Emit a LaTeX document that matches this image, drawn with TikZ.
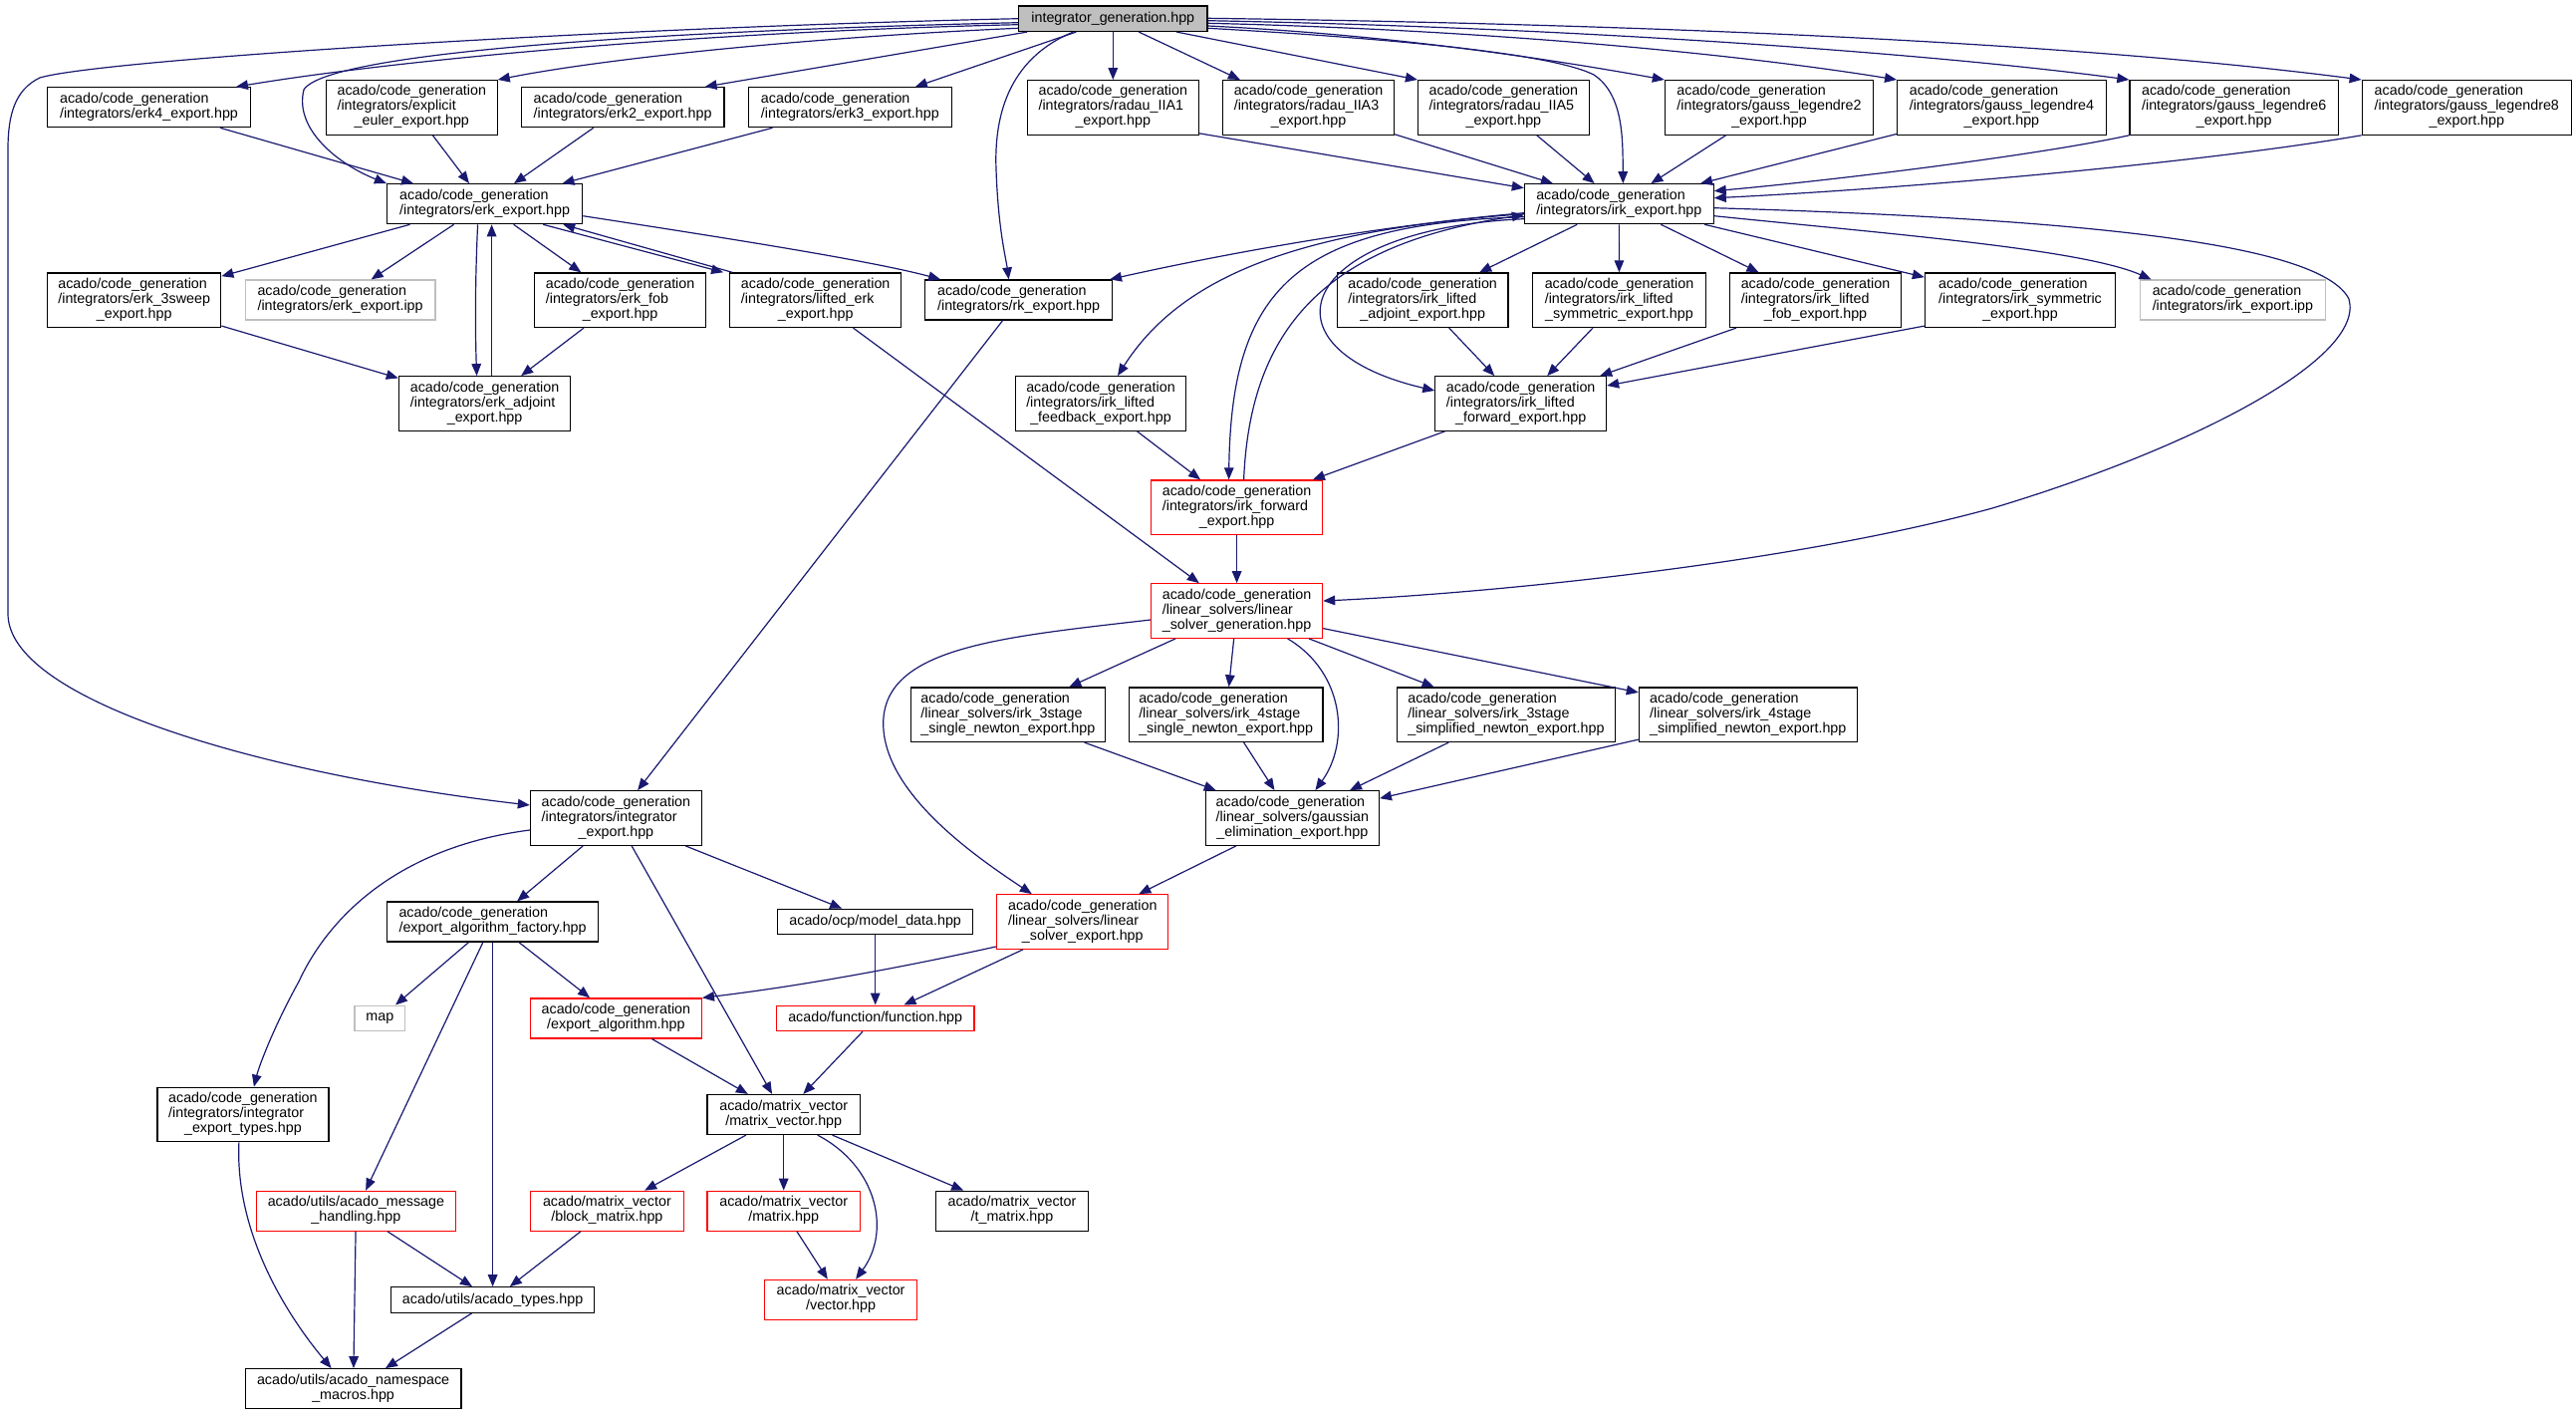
\documentclass[tikz,border=0pt]{standalone}
\usepackage{fontspec}
\setmainfont{Liberation Sans}
\usetikzlibrary{arrows.meta,calc}
\definecolor{edgec}{HTML}{191970}
\definecolor{redc}{HTML}{FF0000}
\definecolor{grayb}{HTML}{BFBFBF}
\newcommand\tb[1]{\begin{tabular}{@{}l@{}}#1\end{tabular}}
\newcommand\lc[1]{\multicolumn{1}{@{}c@{}}{#1}}
\begin{document}
\begin{tikzpicture}[x=0.5pt,y=-0.5pt,
 bx/.style={draw=black,line width=0.6pt,fill=white,inner sep=0pt,font=\fontsize{7.15pt}{7.5pt}\selectfont},
 rb/.style={bx,draw=redc},
 gb/.style={bx,draw=grayb},
 wd/.style={minimum width=#1*0.5pt},
 h1/.style={minimum height=12.8pt},
 h2/.style={minimum height=20pt},
 h3/.style={minimum height=27.3pt},
 edg/.style={draw=edgec,line width=0.6pt,-{Triangle[length=6pt,width=4.8pt]}}]
\useasboundingbox (0,0) rectangle (2586,1420);
% ---------- nodes ----------
\node[bx,fill=grayb,wd=189.4,h1] (top) at (1117.3,18.7) {integrator\_generation.hpp};
\node[bx,wd=203.7,h2] (erk4) at (149.5,107.7) {\tb{acado/code\_generation\\\lc{/integrators/erk4\_export.hpp}}};
\node[bx,wd=171.8,h3] (ee) at (413.3,107.9) {\tb{acado/code\_generation\\/integrators/explicit\\\lc{\_euler\_export.hpp}}};
\node[bx,wd=203.8,h2] (erk2) at (625.1,107.7) {\tb{acado/code\_generation\\\lc{/integrators/erk2\_export.hpp}}};
\node[bx,wd=203.7,h2] (erk3) at (853.4,107.7) {\tb{acado/code\_generation\\\lc{/integrators/erk3\_export.hpp}}};
\node[bx,wd=171.7,h3] (r1) at (1117.3,107.9) {\tb{acado/code\_generation\\/integrators/radau\_IIA1\\\lc{\_export.hpp}}};
\node[bx,wd=172,h3] (r3) at (1313.5,107.9) {\tb{acado/code\_generation\\/integrators/radau\_IIA3\\\lc{\_export.hpp}}};
\node[bx,wd=171.7,h3] (r5) at (1509.4,107.9) {\tb{acado/code\_generation\\/integrators/radau\_IIA5\\\lc{\_export.hpp}}};
\node[bx,wd=209.2,h3] (g2) at (1776,107.9) {\tb{acado/code\_generation\\/integrators/gauss\_legendre2\\\lc{\_export.hpp}}};
\node[bx,wd=209.5,h3] (g4) at (2009.4,107.9) {\tb{acado/code\_generation\\/integrators/gauss\_legendre4\\\lc{\_export.hpp}}};
\node[bx,wd=209.5,h3] (g6) at (2242.7,107.9) {\tb{acado/code\_generation\\/integrators/gauss\_legendre6\\\lc{\_export.hpp}}};
\node[bx,wd=210.2,h3] (g8) at (2476.3,107.9) {\tb{acado/code\_generation\\/integrators/gauss\_legendre8\\\lc{\_export.hpp}}};
\node[bx,wd=196.1,h2] (erk) at (486.6,204.7) {\tb{acado/code\_generation\\\lc{/integrators/erk\_export.hpp}}};
\node[bx,wd=189.8,h2] (irk) at (1625.3,204.7) {\tb{acado/code\_generation\\\lc{/integrators/irk\_export.hpp}}};
\node[bx,wd=174.2,h3] (e3s) at (134.7,301.2) {\tb{acado/code\_generation\\/integrators/erk\_3sweep\\\lc{\_export.hpp}}};
\node[gb,wd=190.7,h2] (eipp) at (341.6,301) {\tb{acado/code\_generation\\\lc{/integrators/erk\_export.ipp}}};
\node[bx,wd=172,h3] (efob) at (622.6,301.2) {\tb{acado/code\_generation\\/integrators/erk\_fob\\\lc{\_export.hpp}}};
\node[bx,wd=172,h3] (lerk) at (818.7,301.2) {\tb{acado/code\_generation\\/integrators/lifted\_erk\\\lc{\_export.hpp}}};
\node[bx,wd=187.7,h2] (rk) at (1022.6,301) {\tb{acado/code\_generation\\\lc{/integrators/rk\_export.hpp}}};
\node[bx,wd=171.7,h3] (ila) at (1428.2,301.2) {\tb{acado/code\_generation\\/integrators/irk\_lifted\\\lc{\_adjoint\_export.hpp}}};
\node[bx,wd=173.4,h3] (ils) at (1625.5,301.2) {\tb{acado/code\_generation\\/integrators/irk\_lifted\\\lc{\_symmetric\_export.hpp}}};
\node[bx,wd=171.8,h3] (ilf) at (1822.5,301.2) {\tb{acado/code\_generation\\/integrators/irk\_lifted\\\lc{\_fob\_export.hpp}}};
\node[bx,wd=191.1,h3] (isym) at (2028,301.2) {\tb{acado/code\_generation\\/integrators/irk\_symmetric\\\lc{\_export.hpp}}};
\node[gb,wd=186.5,h2] (iipp) at (2241.4,301) {\tb{acado/code\_generation\\\lc{/integrators/irk\_export.ipp}}};
\node[bx,wd=172.5,h3] (eadj) at (486.6,405) {\tb{acado/code\_generation\\/integrators/erk\_adjoint\\\lc{\_export.hpp}}};
\node[bx,wd=171.7,h3] (ilfb) at (1105,405) {\tb{acado/code\_generation\\/integrators/irk\_lifted\\\lc{\_feedback\_export.hpp}}};
\node[bx,wd=171.7,h3] (ilfw) at (1526.7,405) {\tb{acado/code\_generation\\/integrators/irk\_lifted\\\lc{\_forward\_export.hpp}}};
\node[rb,wd=172,h3] (fwd) at (1241.6,509.2) {\tb{acado/code\_generation\\/integrators/irk\_forward\\\lc{\_export.hpp}}};
\node[rb,wd=172,h3] (lsg) at (1241.6,613) {\tb{acado/code\_generation\\/linear\_solvers/linear\\\lc{\_solver\_generation.hpp}}};
\node[bx,wd=195,h3] (s3) at (1011.9,717.2) {\tb{acado/code\_generation\\/linear\_solvers/irk\_3stage\\\lc{\_single\_newton\_export.hpp}}};
\node[bx,wd=194.7,h3] (s4) at (1230.7,717.2) {\tb{acado/code\_generation\\/linear\_solvers/irk\_4stage\\\lc{\_single\_newton\_export.hpp}}};
\node[bx,wd=218.8,h3] (p3) at (1511.9,717.2) {\tb{acado/code\_generation\\/linear\_solvers/irk\_3stage\\\lc{\_simplified\_newton\_export.hpp}}};
\node[bx,wd=218.9,h3] (p4) at (1754.8,717.2) {\tb{acado/code\_generation\\/linear\_solvers/irk\_4stage\\\lc{\_simplified\_newton\_export.hpp}}};
\node[bx,wd=172,h3] (ie) at (618.4,821) {\tb{acado/code\_generation\\/integrators/integrator\\\lc{\_export.hpp}}};
\node[bx,wd=174,h3] (gel) at (1297.4,821) {\tb{acado/code\_generation\\/linear\_solvers/gaussian\\\lc{\_elimination\_export.hpp}}};
\node[bx,wd=212,h2] (eaf) at (494.6,925) {\tb{acado/code\_generation\\\lc{/export\_algorithm\_factory.hpp}}};
\node[bx,wd=196,h1] (md) at (878.7,925) {acado/ocp/model\_data.hpp};
\node[rb,wd=172,h3] (lse) at (1086.8,925) {\tb{acado/code\_generation\\/linear\_solvers/linear\\\lc{\_solver\_export.hpp}}};
\node[gb,wd=50.6,h1] (map) at (381.3,1021.9) {map};
\node[rb,wd=172,h2] (ea) at (618.4,1021.9) {\tb{acado/code\_generation\\\lc{/export\_algorithm.hpp}}};
\node[rb,wd=198.7,h1] (fn) at (878.7,1021.9) {acado/function/function.hpp};
\node[bx,wd=172,h3] (iet) at (243.9,1118.5) {\tb{acado/code\_generation\\/integrators/integrator\\\lc{\_export\_types.hpp}}};
\node[bx,wd=153.6,h2] (mv) at (786.7,1118.5) {\tb{acado/matrix\_vector\\\lc{/matrix\_vector.hpp}}};
\node[rb,wd=200.3,h2] (mh) at (357.4,1215.2) {\tb{acado/utils/acado\_message\\\lc{\_handling.hpp}}};
\node[rb,wd=154,h2] (bm) at (609.4,1215.2) {\tb{acado/matrix\_vector\\\lc{/block\_matrix.hpp}}};
\node[rb,wd=153.6,h2] (mx) at (786.7,1215.2) {\tb{acado/matrix\_vector\\\lc{/matrix.hpp}}};
\node[bx,wd=153.7,h2] (tm) at (1016,1215.2) {\tb{acado/matrix\_vector\\\lc{/t\_matrix.hpp}}};
\node[bx,wd=204.5,h1] (aty) at (494.6,1304.5) {acado/utils/acado\_types.hpp};
\node[rb,wd=153.2,h2] (vec) at (844.1,1304.3) {\tb{acado/matrix\_vector\\\lc{/vector.hpp}}};
\node[bx,wd=216.8,h2] (nm) at (354.6,1393.7) {\tb{acado/utils/acado\_namespace\\\lc{\_macros.hpp}}};
% ---------- edges from top ----------
\draw[edg] (top.west) .. controls (600,28) and (100,60) .. (40,78) .. controls (15,90) and (8,115) .. (8,150) -- (8,616) .. controls (8,700) and (250,775) .. ($(ie.west)+(0,-13)$);
\draw[edg] ($(top.west)+(0,4)$) .. controls (700,30) and (330,50) .. (305,90) .. controls (295,130) and (340,165) .. (erk.north west);
\draw[edg] ($(top.west)+(0,6)$) .. controls (700,32) and (400,60) .. ($(erk4.north east)+(-15,0)$);
\draw[edg] ($(top.west)+(0,9.6)$) .. controls (800,38) and (600,60) .. (ee.north east);
\draw[edg] ($(top.south west)+(9,0)$) -- ($(erk2.north east)+(-20,0)$);
\draw[edg] ($(top.south)+(-37,0)$) -- ($(erk3.north east)+(-37,0)$);
\draw[edg] ($(top.south)+(-40,0)$) .. controls (1010,60) and (998,120) .. (1000,170) .. controls (1002,230) and (1010,260) .. ($(rk.north)+(-10,0)$);
\draw[edg] (top) -- (r1);
\draw[edg] ($(top.south)+(26,0)$) -- ($(r3.north west)+(18,0)$);
\draw[edg] ($(top.south)+(64,0)$) -- (r5.north west);
\draw[edg] ($(top.east)+(0,9.6)$) .. controls (1420,40) and (1560,55) .. (1600,75) .. controls (1630,95) and (1629,140) .. ($(irk.north)+(4,0)$);
\draw[edg] ($(top.east)+(0,7.3)$) .. controls (1400,35) and (1560,60) .. (g2.north west);
\draw[edg] ($(top.east)+(0,4.6)$) .. controls (1500,30) and (1750,55) .. (g4.north west);
\draw[edg] ($(top.east)+(0,2)$) .. controls (1600,28) and (1950,55) .. (g6.north west);
\draw[edg] ($(top.east)+(0,-0.4)$) .. controls (1700,25) and (2100,45) .. (g8.north west);
% ---------- row 1 to erk / irk ----------
\draw[edg] (erk4) -- (erk);
\draw[edg] (ee) -- (erk);
\draw[edg] (erk2) -- (erk);
\draw[edg] (erk3) -- (erk);
\draw[edg] ($(r1.south east)+(0,-2)$) -- ($(irk.west)+(0,-16)$);
\draw[edg] (r3) -- (irk);
\draw[edg] (r5) -- (irk);
\draw[edg] (g2) -- (irk);
\draw[edg] (g4) -- (irk);
\draw[edg] (g6.south west) .. controls (2050,155) and (1850,180) .. ($(irk.east)+(0,-13)$);
\draw[edg] (g8.south west) .. controls (2200,165) and (1900,190) .. ($(irk.east)+(0,-6)$);
% ---------- erk_export ----------
\draw[edg] (erk) -- (e3s);
\draw[edg] (erk) -- (eipp);
\draw[edg] ($(erk.south)+(-7,0)$) .. controls (477,280) and (477,330) .. ($(eadj.north)+(-8,0)$);
\draw[edg] ($(eadj.north)+(7,0)$) -- ($(erk.south)+(7,0)$);
\draw[edg] (erk) -- (efob);
\draw[edg] ($(erk.south east)+(-40,0)$) -- ($(lerk.north west)+(-6,0)$);
\draw[edg] ($(lerk.north west)+(3,0)$) -- ($(erk.south east)+(-20,0)$);
\draw[edg] ($(erk.east)+(0,12)$) .. controls (750,242) and (880,263) .. ($(rk.north west)+(16,0)$);
\draw[edg] (e3s) -- (eadj);
\draw[edg] (efob) -- (eadj);
\draw[edg] (lerk) -- (lsg);
\draw[edg] (rk) -- (ie);
% ---------- irk_export ----------
\draw[edg] ($(irk.west)+(0,9)$) .. controls (1400,225) and (1250,250) .. ($(rk.north east)+(-3,0)$);
\draw[edg] ($(irk.west)+(0,10)$) .. controls (1320,230) and (1190,270) .. ($(ilfb.north)+(17,0)$);
\draw[edg] ($(irk.west)+(0,13)$) .. controls (1300,225) and (1236,290) .. ($(fwd.north)+(-8,0)$);
\draw[edg] ($(fwd.north)+(7,0)$) .. controls (1255,330) and (1330,245) .. ($(irk.west)+(0,11)$);
\draw[edg] ($(irk.west)+(0,15)$) .. controls (1300,230) and (1260,350) .. ($(ilfw.west)+(0,-13)$);
\draw[edg] (irk) -- (ila);
\draw[edg] (irk) -- (ils);
\draw[edg] (irk) -- (ilf);
\draw[edg] (irk) -- (isym);
\draw[edg] ($(irk.east)+(0,12)$) .. controls (1900,235) and (2090,250) .. ($(iipp.north west)+(12,0)$);
\draw[edg] ($(irk.east)+(0,4)$) .. controls (2100,220) and (2330,245) .. (2358,300) .. controls (2375,360) and (2200,450) .. (2000,510) .. controls (1800,565) and (1500,595) .. ($(lsg.east)+(0,-10)$);
% ---------- lifted ----------
\draw[edg] (ila) -- (ilfw);
\draw[edg] (ils) -- (ilfw);
\draw[edg] (ilf) -- (ilfw);
\draw[edg] ($(isym.south west)+(0,-2)$) -- ($(ilfw.east)+(0,-18)$);
\draw[edg] (ilfw) -- (fwd);
\draw[edg] (ilfb) -- (fwd);
\draw[edg] (fwd) -- (lsg);
% ---------- linear solvers ----------
\draw[edg] (lsg) -- (s3);
\draw[edg] (lsg) -- (s4);
\draw[edg] (lsg) -- (p3);
\draw[edg] (lsg) -- (p4);
\draw[edg] ($(lsg.south)+(51,0)$) .. controls (1350,675) and (1355,745) .. ($(gel.north)+(23,0)$);
\draw[edg] ($(lsg.west)+(0,9)$) .. controls (1000,640) and (880,650) .. (887,733) .. controls (893,800) and (980,860) .. ($(lse.north)+(-51,0)$);
\draw[edg] (s3) -- (gel);
\draw[edg] (s4) -- (gel);
\draw[edg] (p3) -- (gel);
\draw[edg] (p4) -- (gel);
\draw[edg] (gel) -- (lse);
\draw[edg] ($(lse.south west)+(0,-3)$) .. controls (900,972) and (800,990) .. (ea.north east);
\draw[edg] (lse) -- (fn);
\draw[edg] (md) -- (fn);
% ---------- integrator_export ----------
\draw[edg] (ie) -- (eaf);
\draw[edg] (ie) -- (md);
\draw[edg] (ie) -- (mv);
\draw[edg] ($(ie.west)+(0,12)$) .. controls (400,850) and (330,920) .. (300,985) .. controls (275,1030) and (260,1070) .. ($(iet.north)+(11,0)$);
\draw[edg] (eaf) -- (map);
\draw[edg] (eaf) -- (mh);
\draw[edg] (eaf) -- (aty);
\draw[edg] (eaf) -- (ea);
\draw[edg] (ea) -- (mv);
\draw[edg] (fn) -- (mv);
% ---------- matrix_vector ----------
\draw[edg] (mv) -- (bm);
\draw[edg] (mv) -- (mx);
\draw[edg] (mv) -- (tm);
\draw[edg] ($(mv.south)+(34,0)$) .. controls (880,1170) and (895,1235) .. ($(vec.north)+(15,0)$);
\draw[edg] (mx) -- (vec);
\draw[edg] (bm) -- (aty);
\draw[edg] (mh) -- (aty);
\draw[edg] (mh) -- (nm);
\draw[edg] (aty) -- (nm);
\draw[edg] ($(iet.south)+(-4,0)$) .. controls (236,1230) and (280,1310) .. ($(nm.north)+(-22,0)$);
\end{tikzpicture}
\end{document}
